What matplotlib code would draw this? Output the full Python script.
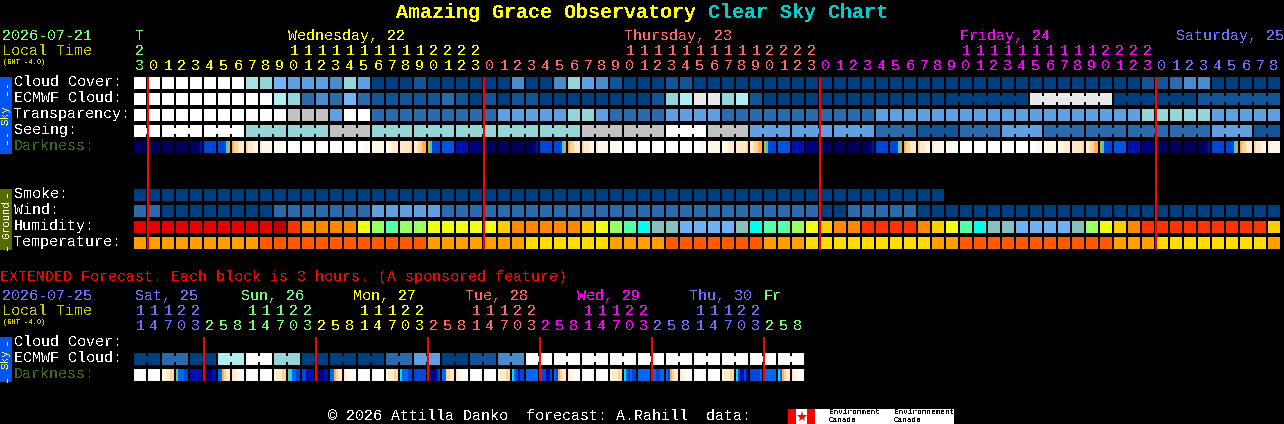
import numpy as np
import matplotlib
matplotlib.use('Agg')
import matplotlib.pyplot as plt
from matplotlib.colors import LinearSegmentedColormap
from matplotlib.patches import Rectangle

plt.rcParams['font.family'] = ['Liberation Mono', 'DejaVu Sans Mono']

# hour labels
HOURS = [23] + list(range(24)) * 3 + list(range(9))
EXT_HOURS = [11, 14, 17, 20, 23] + [2, 5, 8, 11, 14, 17, 20, 23] * 5 + [2, 5, 8]

# one char per block, see SKY_COLORS
CLOUD = ("W" * 8 + "ut54443t4" + "DDDd" + "DDDDDD" + "3" + "DD" + "3t43d" + "DDD" + "dd"
         + "D" * 32 + "dd233" + "D" * 5)
ECMWF = ("W" * 10 + "Lt23252" + "d" * 5 + "2dDdDdd" + "D" * 8 + "dtLlltLd"
         + "D" * 19 + "l" * 6 + "D" * 6 + "d" * 6)
TRANSP = ("W" * 11 + "ggg4WW" + "2" * 9 + "4" * 5 + "tt4" + "2" * 4 + "4" * 4 + "2" * 11
          + "4" * 19 + "t" * 5 + "4" * 5)
SEEING = ("W" * 8 + "t" * 6 + "g" * 3 + "t" * 15 + "g" * 6 + "W" * 3 + "g" * 3 + "4" * 9
          + "222ddd222444" + "2" * 12 + "444dd")
SMOKE = "D" * 58
WIND = "22" + "D" * 8 + "2" * 7 + "4" * 5 + "2" * 27 + "DD" + "2" * 5 + "D" * 26
HUMID = ("R" * 10 + "rH" + "O" * 4 + "YGMGG" + "Y" * 5 + "A" + "O" * 5 + "AYGMCKK" + "B" * 4
         + "KCMMGYA" + "OO" + "H" * 4 + "OAYMCKK" + "B" * 4 + "KGYAO" + "H" * 9 + "A")
TEMP = ("a" * 9 + "f" * 12 + "a" * 7 + "y" * 6 + "a" * 4 + "f" * 7 + "a" * 3 + "y" * 9 + "aa"
        + "f" * 11 + "aaa" + "y" * 8 + "a")
EXT_ECMWF = "DD22DDLLWWttDDDDDD2244DDdd33" + "W" * 20

SKY_COLORS = {'D': '#003f7f', 'd': '#135496', '2': '#2c6bab', '3': '#4a8bcb', '4': '#60a0e0',
              '5': '#75b5f5', 't': '#95d5d5', 'u': '#a3e3e3', 'L': '#aeeeee', 'g': '#c2c2c2',
              'l': '#e9e9e9', 'W': '#ffffff'}
GROUND_COLORS = {'R': '#e60000', 'r': '#bb0000', 'H': '#ff3300', 'O': '#ff8800', 'A': '#ffcc00',
                 'Y': '#eeff11', 'G': '#99ff66', 'M': '#55ffaa', 'C': '#00ffee', 'K': '#88bfbf',
                 'B': '#70b0f5', 'a': '#ffa000', 'f': '#ff5a00', 'y': '#ffdd00'}

# darkness levels, 0 is daylight, 11 is full night
DARK_STOPS = ['#ffffff', '#fff7ea', '#ffe9c8', '#ffd59a', '#ffb04d', '#ff9a10',
              '#00e0ff', '#0066ee', '#0048d8', '#0010b0', '#000080', '#000058']
DARK_CELLS = {
    'W': [0, 0, 0, 0, 0, 0], 'N': [11, 11, 11, 11, 11, 11], 'E': [11, 11, 11, 11, 10, 9],
    'B': [8, 8, 8, 8, 8, 8], 'T': [8, 8, 8, 8, 6, 5], 'a': [4, 3, 3, 2, 2, 2],
    'b': [3, 2, 2, 2, 1, 1], 'c': [2, 1, 1, 1, 1, 1], 'd': [1, 1, 1, 0, 0, 0],
    'f': [0, 0, 0, 1, 1, 1], 'g': [1, 1, 1, 1, 1, 1], 'h': [1, 1, 1, 2, 2, 2],
    'i': [2, 2, 2, 2, 2, 3], 'j': [2, 2, 3, 3, 4, 4], 'k': [5, 6, 8, 8, 8, 8],
    'l': [7.5, 7.5, 7.5, 7.5, 7.5, 7.5], 'm': [9, 9, 9, 9, 9, 9], 'n': [10, 10, 10, 10, 10, 10],
}
DARKNESS = "NNNNEBTabcdWWWWWfghijklmn" + "NNNEBTabcdWWWWWfghijklmn" + "NNNEBTabcdWWWWWfghijklmn" + "NNNEBTabc"

EXT_DARK_CELLS = [
    [0] * 6, [0] * 6, [1, 1, 2, 2, 3, 3], [5.5, 7, 7, 7, 8, 8], [9] * 6, [11, 11, 10, 10, 9, 9], [7, 7, 4, 3, 2, 2], [2, 2, 1, 1, 0, 0],
    [0] * 6, [0] * 6, [1, 2, 2, 2, 3, 3], [5.5, 6, 7, 7, 8, 8], [8, 8, 9, 9, 9, 9], [10, 11, 10, 10, 9, 9], [7, 7, 4, 3, 2, 2], [2, 1, 1, 0, 0, 0],
    [0] * 6, [0] * 6, [1, 2, 2, 2, 3, 3], [6, 7, 7, 7, 8, 8], [8] * 6, [9, 10, 10, 10, 9, 8], [7, 7, 3, 3, 2, 2], [2, 1, 1, 0, 0, 0],
    [0] * 6, [0] * 6, [1, 2, 2, 2, 3, 3], [6, 7, 8, 9, 8, 8], [7] * 6, [7, 8, 8, 9, 9, 8], [7, 8, 4, 3, 2, 2], [2, 1, 1, 0, 0, 0],
    [0] * 6, [0] * 6, [1, 2, 2, 2, 3, 3], [6, 7, 8, 7, 8, 8], [7] * 6, [7, 7, 8, 8, 7, 7], [7, 8, 4, 3, 2, 2], [2, 1, 1, 0, 0, 0],
    [0] * 6, [0] * 6, [1, 2, 2, 2, 3, 3], [6, 8, 9, 9, 8, 9], [8, 8, 8, 8, 8, 7], [7] * 6, [6, 7, 4, 3, 2, 2], [2, 1, 1, 0, 0, 0],
]

# block index of each midnight
MIDNIGHTS = [1, 25, 49, 73]
EXT_MIDNIGHTS = [5, 13, 21, 29, 37, 45]

DAY_GREEN = '#70ff70'
DAY_YELLOW = '#ffff00'
DAY_SALMON = '#ff6666'
DAY_MAGENTA = '#ff00ff'
DAY_BLUE = '#7070ff'
LOCAL_COLOR = '#cccc00'

LEFT = 134
PITCH = 14
SIZE = 12
FS = 10.8  # 15 px


def block_x(i):
    return LEFT + PITCH * i


def put(ax, x, y, s, color='white', size=FS, **kw):
    kw.setdefault('ha', 'left')
    # the +1 lines the text up with the reference baseline
    ax.text(x, y + 1, s, color=color, fontsize=size, va='center', antialiased=False, **kw)


def box(ax, x, y, w, h, color, z=2):
    ax.add_patch(Rectangle((x, y), w, h, facecolor=color, edgecolor='none', antialiased=False, zorder=z))


def draw_row(ax, values, top, colors, group=None):
    for i, v in enumerate(values):
        box(ax, block_x(i), top, SIZE, SIZE, colors[v])
        # blocks of one forecast period are joined by a bridge
        if group is not None and i + 1 < len(values) and group(i) is not None and group(i) == group(i + 1):
            box(ax, block_x(i) + SIZE, top + 3, PITCH - SIZE, SIZE - 6, colors[v])


def draw_dark(ax, cells, top, cmap):
    for i, cell in enumerate(cells):
        x = block_x(i)
        ax.imshow([cell], cmap=cmap, vmin=0, vmax=11, extent=(x, x + SIZE, top + SIZE, top),
                  aspect='auto', interpolation='nearest', zorder=2)


def day_color(i, hours, order):
    # count midnights passed so far
    n = sum(1 for k in range(1, i + 1) if hours[k] < hours[k - 1])
    return order[n]


def draw_header(ax, hours, order, top):
    for i, h in enumerate(hours):
        c = day_color(i, hours, order)
        put(ax, block_x(i) + 6, top + 30, str(h % 10), c, ha='center')
        if h >= 10:
            put(ax, block_x(i) + 6, top + 15, str(h // 10), c, ha='center')


def main():
    fig = plt.figure(figsize=(12.84, 4.24), dpi=100, facecolor='black')
    ax = fig.add_axes([0, 0, 1, 1])
    ax.set_facecolor('black')
    ax.axis('off')

    dark_cmap = LinearSegmentedColormap.from_list(
        'dark', [(k / 11, c) for k, c in enumerate(DARK_STOPS)])

    # title
    put(ax, 396, 12, 'Amazing Grace Observatory', '#ffff00', size=14.4, fontweight='bold')
    put(ax, 708, 12, 'Clear Sky Chart', '#00cccc', size=14.4, fontweight='bold')

    # main header
    put(ax, 2, 35, '2026-07-21', DAY_GREEN)
    put(ax, 2, 50, 'Local Time', LOCAL_COLOR)
    put(ax, 3, 62, '(GMT -4.0)', LOCAL_COLOR, size=5)
    put(ax, 135, 35, 'T', DAY_GREEN)
    put(ax, 288, 35, 'Wednesday, 22', DAY_YELLOW)
    put(ax, 624, 35, 'Thursday, 23', DAY_SALMON)
    put(ax, 960, 35, 'Friday, 24', DAY_MAGENTA)
    put(ax, 1176, 35, 'Saturday, 25', DAY_BLUE)
    draw_header(ax, HOURS, [DAY_GREEN, DAY_YELLOW, DAY_SALMON, DAY_MAGENTA, DAY_BLUE], 35)

    # sky rows
    for y, name in zip([81, 97, 113, 129], ['Cloud Cover:', 'ECMWF Cloud:', 'Transparency:', 'Seeing:']):
        put(ax, 14, y, name)
    put(ax, 14, 145, 'Darkness:', '#3a6b1e')
    draw_row(ax, CLOUD, 77, SKY_COLORS)
    draw_row(ax, ECMWF, 93, SKY_COLORS, group=lambda i: (i - 58) // 6 if i >= 58 else None)
    draw_row(ax, TRANSP, 109, SKY_COLORS)
    draw_row(ax, SEEING, 125, SKY_COLORS, group=lambda i: (i + 1) // 3)
    draw_dark(ax, [DARK_CELLS[c] for c in DARKNESS], 141, dark_cmap)

    # ground rows
    for y, name in zip([193, 209, 225, 241], ['Smoke:', 'Wind:', 'Humidity:', 'Temperature:']):
        put(ax, 14, y, name)
    draw_row(ax, SMOKE, 189, SKY_COLORS)
    draw_row(ax, WIND, 205, SKY_COLORS)
    draw_row(ax, HUMID, 221, GROUND_COLORS)
    draw_row(ax, TEMP, 237, GROUND_COLORS)

    # side bars
    box(ax, 0, 77, 12, 77, '#0055ee')
    put(ax, 6, 114, 'Sky', '#ffff33', size=8, rotation=90, ha='center')
    put(ax, 6, 86, '--', '#ffff33', size=10, rotation=90, ha='center')
    put(ax, 6, 135, '--', '#ffff33', size=10, rotation=90, ha='center')
    box(ax, 0, 189, 12, 61, '#556b00')
    put(ax, 6, 218, 'Ground', 'white', size=7.6, rotation=90, ha='center')
    put(ax, 6, 192, '-', 'white', size=10, rotation=90, ha='center')
    put(ax, 6, 245, '-', 'white', size=10, rotation=90, ha='center')

    for m in MIDNIGHTS:
        box(ax, block_x(m) - 1, 77, 2, 173, '#ff0000', z=3)

    # extended forecast
    put(ax, 0, 276, 'EXTENDED Forecast. Each block is 3 hours. (A sponsored feature)', '#ff0000')
    put(ax, 2, 295, '2026-07-25', DAY_BLUE)
    put(ax, 2, 310, 'Local Time', LOCAL_COLOR)
    put(ax, 3, 322, '(GMT -4.0)', LOCAL_COLOR, size=5)
    for x, name, c in [(135, 'Sat, 25', DAY_BLUE), (241, 'Sun, 26', DAY_GREEN), (353, 'Mon, 27', DAY_YELLOW),
                       (465, 'Tue, 28', DAY_SALMON), (577, 'Wed, 29', DAY_MAGENTA), (689, 'Thu, 30', DAY_BLUE),
                       (764, 'Fr', DAY_GREEN)]:
        put(ax, x, 295, name, c)
    draw_header(ax, EXT_HOURS, [DAY_BLUE, DAY_GREEN, DAY_YELLOW, DAY_SALMON, DAY_MAGENTA, DAY_BLUE, DAY_GREEN], 295)

    put(ax, 14, 341, 'Cloud Cover:')
    put(ax, 14, 357, 'ECMWF Cloud:')
    put(ax, 14, 373, 'Darkness:', '#3a6b1e')
    draw_row(ax, EXT_ECMWF, 353, SKY_COLORS, group=lambda i: i // 2)
    draw_dark(ax, EXT_DARK_CELLS, 369, dark_cmap)
    box(ax, 0, 337, 12, 45, '#0055ee')
    put(ax, 6, 358, 'Sky', '#ffff33', size=8, rotation=90, ha='center')
    put(ax, 6, 340, '-', '#ffff33', size=10, rotation=90, ha='center')
    put(ax, 6, 377, '-', '#ffff33', size=10, rotation=90, ha='center')
    for m in EXT_MIDNIGHTS:
        box(ax, block_x(m) - 1, 337, 2, 44, '#ff0000', z=3)

    # footer and logo
    put(ax, 328, 415, '\u00a9 2026 Attilla Danko  forecast: A.Rahill  data:')
    box(ax, 788, 409, 166, 15, '#ffffff')
    box(ax, 788, 409, 8, 15, '#ff0000', z=3)
    box(ax, 807, 409, 8, 15, '#ff0000', z=3)
    ax.plot([801.5], [416.5], marker='*', color='#ff0000', markersize=8, markeredgewidth=0, zorder=3)
    put(ax, 829, 412, 'Environment', 'black', size=5.6)
    put(ax, 829, 419, 'Canada', 'black', size=5.6)
    put(ax, 894, 412, 'Environnement', 'black', size=5.6)
    put(ax, 894, 419, 'Canada', 'black', size=5.6)

    ax.set_xlim(0, 1284)
    ax.set_ylim(424, 0)

    fig.savefig('out.png', dpi=100, facecolor='black')


if __name__ == '__main__':
    main()
